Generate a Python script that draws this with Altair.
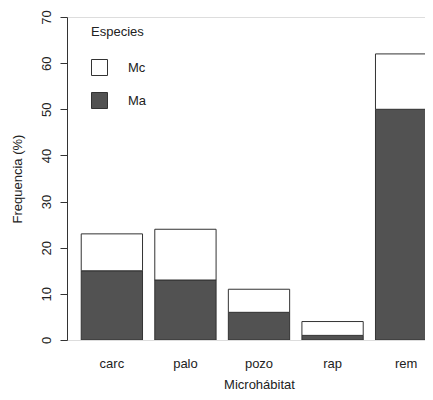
import altair as alt
import pandas as pd

categories = ["carc", "palo", "pozo", "rap", "rem"]
ma_values = [15, 13, 6, 1, 50]
mc_values = [8, 11, 5, 3, 12]
species = ["Mc", "Ma"]
species_colors = ["#ffffff", "#525252"]
y_ticks = [0, 10, 20, 30, 40, 50, 60, 70]

rows = []
for c, a, m in zip(categories, ma_values, mc_values):
    rows.append({"Microhabitat": c, "Especies": "Ma", "value": a, "ord": 0})
    rows.append({"Microhabitat": c, "Especies": "Mc", "value": m, "ord": 1})
df = pd.DataFrame(rows)

FONT = "Liberation Sans"

chart = alt.Chart(df).mark_bar(
    stroke="#333333", strokeWidth=1, clip=True
).encode(
    x=alt.X(
        "Microhabitat:N",
        sort=categories,
        scale=alt.Scale(range=[0, 384], paddingInner=0.1667, paddingOuter=0.1933),
        axis=alt.Axis(
            title="Microhábitat",
            labelAngle=0,
            ticks=False,
            tickSize=0,
            domain=False,
            labelBaseline="alphabetic",
            labelPadding=27,
            labelFontSize=13,
            labelFont=FONT,
            labelColor="#222222",
            titleFont=FONT,
            titleFontSize=13,
            titleFontWeight="normal",
            titleColor="#222222",
            titleX=192,
            titleY=48,
            titleAlign="center",
            titleBaseline="alphabetic",
        ),
    ),
    y=alt.Y(
        "value:Q",
        stack="zero",
        scale=alt.Scale(domain=[0, 70], nice=False),
        axis=alt.Axis(
            title="Frequencia (%)",
            values=y_ticks,
            grid=False,
            tickSize=7,
            tickColor="#333333",
            domainColor="#333333",
            labelAngle=270,
            labelAlign="center",
            labelBaseline="bottom",
            labelPadding=7,
            labelFontSize=13,
            labelFont=FONT,
            labelColor="#222222",
            titleFont=FONT,
            titleFontSize=13,
            titleFontWeight="normal",
            titleColor="#222222",
            titleAngle=270,
            titleX=-50,
            titleY=161.5,
            titleAlign="center",
            titleBaseline="middle",
        ),
    ),
    fill=alt.Fill(
        "Especies:N",
        scale=alt.Scale(domain=species, range=species_colors),
        legend=alt.Legend(
            orient="none",
            legendX=24,
            legendY=9,
            title="Especies",
            titleFont=FONT,
            titleFontSize=13,
            titleFontWeight="normal",
            titleColor="#222222",
            titlePadding=20,
            symbolType="square",
            symbolSize=256,
            symbolStrokeColor="#333333",
            symbolStrokeWidth=1,
            symbolOpacity=1,
            labelFont=FONT,
            labelFontSize=13,
            labelColor="#222222",
            labelOffset=20,
            rowPadding=12,
            padding=0,
        ),
    ),
    order=alt.Order("ord:Q"),
).properties(
    width=358,
    height=323,
    autosize=alt.AutoSizeParams(type="none"),
    padding={"left": 59, "top": 9, "right": 0, "bottom": 52},
).configure_view(
    stroke=None
).configure(
    background="white"
)

chart.save("out.html", embed_options={"renderer": "svg", "actions": False})
